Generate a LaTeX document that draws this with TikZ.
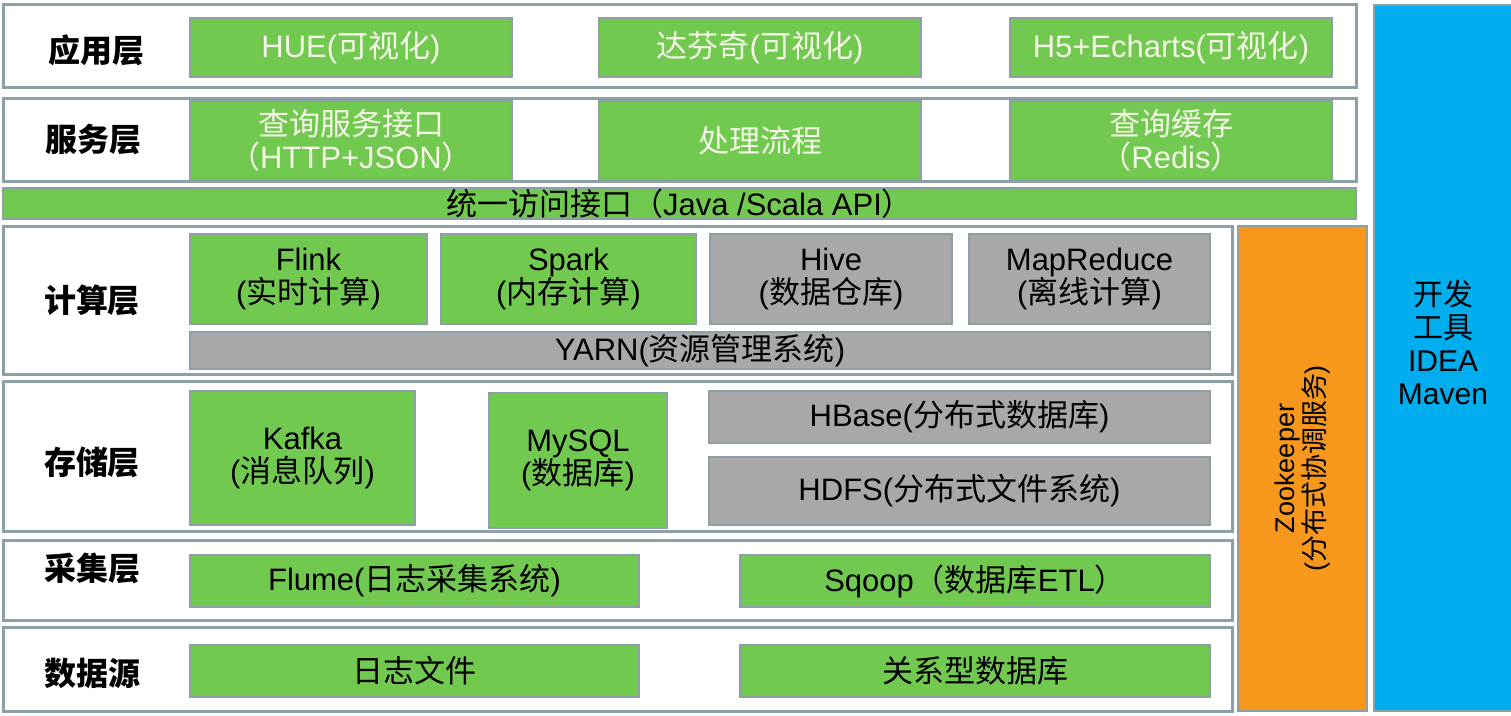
\documentclass[tikz,border=0pt]{standalone}
\usepackage{fontspec}
\setmainfont{Liberation Sans}
\newfontfamily\cjk{Noto Sans CJK SC}
\usetikzlibrary{fit,calc}

\definecolor{layerline}{RGB}{140,160,166}
\definecolor{boxgreen}{RGB}{114,201,80}
\definecolor{boxgray}{RGB}{168,168,168}
\definecolor{zkorange}{RGB}{247,152,29}
\definecolor{devblue}{RGB}{0,174,239}
\definecolor{lighttext}{RGB}{246,246,232}

\newcommand\zh[1]{{\cjk #1}}

\tikzset{
  layer/.style={draw=layerline, line width=1.5pt, fill=white, inner sep=0pt},
  gbox/.style={draw=layerline, line width=1pt, fill=boxgreen, inner sep=0pt},
  hbox/.style={gbox, fill=boxgray},
  btext/.style={align=center, inner sep=0pt, font=\fontsize{15.5}{16.5}\selectfont},
  wtext/.style={btext, text=lighttext},
  lbl/.style={font=\cjk\bfseries\fontsize{16}{18}\selectfont},
}

\begin{document}
\begin{tikzpicture}[x=0.5pt,y=-0.5pt]
\useasboundingbox (0,0) rectangle (1511,716);

% layer frames
\node[layer, fit={(3,5)(1356,88)}] (app) {};
\node[layer, fit={(3,99)(1356,182)}] (svc) {};
\node[gbox, fit={(3,188)(1356,219)}, label={[btext]center:\zh{统一访问接口（}Java /Scala API\zh{）}}] (api) {};
\node[layer, fit={(3,227)(1232,375)}] (calc) {};
\node[layer, fit={(3,382)(1232,532)}] (store) {};
\node[layer, fit={(3,541)(1232,621)}] (collect) {};
\node[layer, fit={(3,628)(1232,711)}] (src) {};

% side columns
\node[gbox, fill=zkorange, fit={(1238,226)(1367,711)}] (zk) {};
\node[gbox, fill=devblue, fit={(1374,5)(1513,711)}] (dev) {};

% layer names
\node[lbl] (appL) at (96,50) {应用层};
\node[lbl] (svcL) at (94,140) {服务层};
\node[lbl] (calcL) at (92,300) {计算层};
\node[lbl] (storeL) at (92,462) {存储层};
\node[lbl] (collectL) at (93,568) {采集层};
\node[lbl] (srcL) at (93,673) {数据源};

% application
\node[gbox, fit={(190,18)(512,77)}, label={[wtext]center:HUE(\zh{可视化})}] (hue) {};
\node[gbox, fit={(599,18)(921,77)}, label={[wtext]center:\zh{达芬奇}(\zh{可视化})}] (davinci) {};
\node[gbox, fit={(1010,18)(1332,77)}, label={[wtext]center:H5+Echarts(\zh{可视化})}] (echarts) {};

% service
\node[gbox, fit={(190,101)(512,180)}, label={[wtext]center:\zh{查询服务接口}\\\zh{（}HTTP+JSON\zh{）}}] (query) {};
\node[gbox, fit={(599,101)(921,180)}, label={[wtext]center:\zh{处理流程}}] (flow) {};
\node[gbox, fit={(1010,101)(1332,180)}, label={[wtext]center:\zh{查询缓存}\\\zh{（}Redis\zh{）}}] (cache) {};

% computing
\node[gbox, fit={(190,234)(427,324)}, label={[btext]center:Flink\\(\zh{实时计算})}] (flink) {};
\node[gbox, fit={(441,234)(696,324)}, label={[btext]center:Spark\\(\zh{内存计算})}] (spark) {};
\node[hbox, fit={(710,234)(952,324)}, label={[btext]center:Hive\\(\zh{数据仓库})}] (hive) {};
\node[hbox, fit={(969,234)(1210,324)}, label={[btext]center:MapReduce\\(\zh{离线计算})}] (mr) {};
\node[hbox, fit={(190,332)(1210,369)}, label={[btext]center:YARN(\zh{资源管理系统})}] (yarn) {};

% storage
\node[gbox, fit={(190,391)(415,525)}, label={[btext]center:Kafka\\(\zh{消息队列})}] (kafka) {};
\node[gbox, fit={(489,393)(667,528)}, label={[btext]center:MySQL\\(\zh{数据库})}] (mysql) {};
\node[hbox, fit={(709,391)(1210,443)}, label={[btext]center:HBase(\zh{分布式数据库})}] (hbase) {};
\node[hbox, fit={(709,457)(1210,525)}, label={[btext]center:HDFS(\zh{分布式文件系统})}] (hdfs) {};

% collection
\node[gbox, fit={(190,555)(639,607)}, label={[btext]center:Flume(\zh{日志采集系统})}] (flume) {};
\node[gbox, fit={(740,555)(1210,607)}, label={[btext]center:Sqoop\zh{（数据库}ETL\zh{）}}] (sqoop) {};

% sources
\node[gbox, fit={(190,645)(639,697)}, label={[btext]center:\zh{日志文件}}] (logs) {};
\node[gbox, fit={(740,645)(1210,697)}, label={[btext]center:\zh{关系型数据库}}] (rdb) {};

% side texts
\node[rotate=90, align=center, font=\fontsize{13.5}{15.5}\selectfont] (zkT) at (zk.center) {Zookeeper\\(\zh{分布式协调服务})};
\node[align=center, font=\fontsize{15}{16.5}\selectfont] (devT) at (1443,342) {\zh{开发}\\\zh{工具}\\IDEA\\Maven};
\end{tikzpicture}
\end{document}
